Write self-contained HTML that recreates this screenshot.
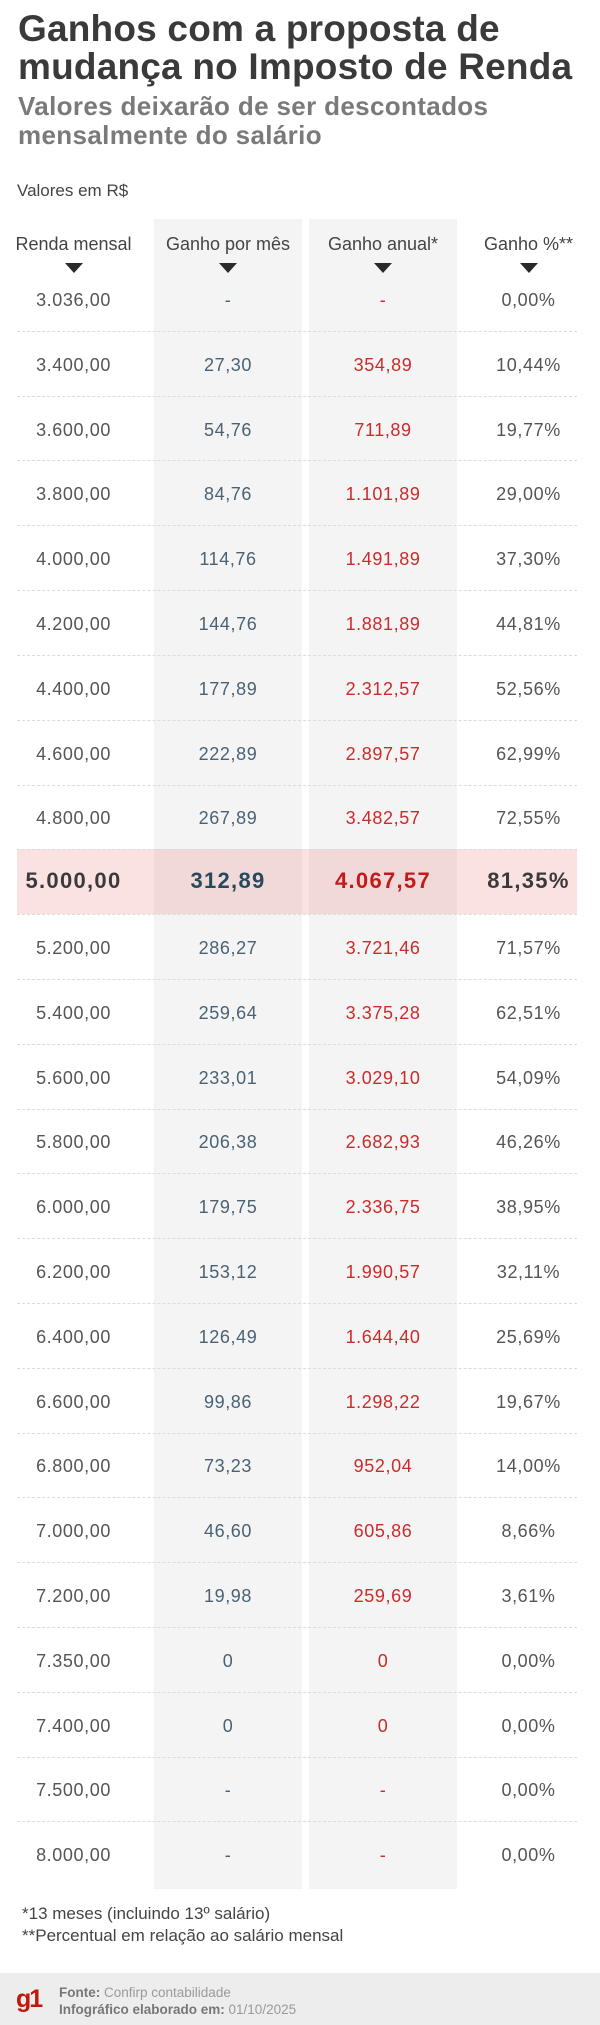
<!DOCTYPE html>
<html>
<head>
<meta charset="utf-8">
<style>
  html,body{margin:0;padding:0;background:#fff;}
  body{width:600px;height:2025px;position:relative;overflow:hidden;font-family:"Liberation Sans",sans-serif;}
  .abs{position:absolute;}
  .title{left:18px;top:10px;font-size:37px;line-height:38px;font-weight:bold;color:#3a3a3a;letter-spacing:0.2px;white-space:nowrap;}
  .sub{left:18px;top:92px;font-size:26px;line-height:29px;font-weight:bold;color:#7a7a7a;letter-spacing:0.35px;white-space:nowrap;}
  .unit{left:17px;top:181px;font-size:17px;line-height:20px;color:#444;white-space:nowrap;}
  .gcol{background:#f4f4f4;top:219px;height:1670px;width:148px;}
  .hd{width:150px;text-align:center;font-size:18px;line-height:30px;top:229px;color:#444;white-space:nowrap;}
  .tri{width:0;height:0;border-left:9px solid transparent;border-right:9px solid transparent;border-top:10px solid #2a2a2a;top:263px;}
  .dash{left:17px;width:560px;height:0;border-top:1px dashed #dcdcdc;}
  .band{left:17px;width:560px;top:849px;height:65px;background:rgba(228,110,110,0.2);}
  .c{width:150px;text-align:center;font-size:18px;line-height:30px;white-space:nowrap;letter-spacing:0.6px;}
  .c0{left:-1.5px;color:#555;}
  .c1{left:153px;color:#4a6274;}
  .c2{left:308px;color:#cc2b2b;}
  .c3{left:453.5px;color:#555;}
  .b{font-weight:bold;font-size:22px;letter-spacing:1.3px;}
  .b.c0{color:#3a3a3a;}
  .b.c1{color:#264a5c;}
  .b.c2{color:#c41a1a;}
  .b.c3{color:#3a3a3a;}
  .note{left:22px;font-size:17px;line-height:22px;color:#444;white-space:nowrap;}
  .footer{left:0;top:1973px;width:600px;height:52px;background:#ededed;}
  .g1{left:16px;top:1984px;font-size:25px;line-height:30px;font-weight:bold;color:#c4170c;letter-spacing:-2px;}
  .ft{left:59px;font-size:13.5px;line-height:17px;color:#9a9a9a;white-space:nowrap;}
  .ft b{color:#777;}
</style>
</head>
<body>
<div class="abs title">Ganhos com a proposta de<br>mudança no Imposto de Renda</div>
<div class="abs sub">Valores deixarão de ser descontados<br>mensalmente do salário</div>
<div class="abs unit">Valores em R$</div>

<div class="abs gcol" style="left:154px"></div>
<div class="abs gcol" style="left:309px"></div>

<div class="abs hd" style="left:-1.5px">Renda mensal</div>
<div class="abs hd" style="left:153px">Ganho por mês</div>
<div class="abs hd" style="left:308px">Ganho anual*</div>
<div class="abs hd" style="left:453.5px">Ganho %**</div>
<div class="abs tri" style="left:64.5px"></div>
<div class="abs tri" style="left:219px"></div>
<div class="abs tri" style="left:374px"></div>
<div class="abs tri" style="left:519.5px"></div>

<div class="abs band"></div>

<!-- dashed separators -->
<div class="abs dash" style="top:331px"></div>
<div class="abs dash" style="top:396px"></div>
<div class="abs dash" style="top:460px"></div>
<div class="abs dash" style="top:525px"></div>
<div class="abs dash" style="top:590px"></div>
<div class="abs dash" style="top:655px"></div>
<div class="abs dash" style="top:720px"></div>
<div class="abs dash" style="top:785px"></div>
<div class="abs dash" style="top:849px"></div>
<div class="abs dash" style="top:914px"></div>
<div class="abs dash" style="top:979px"></div>
<div class="abs dash" style="top:1044px"></div>
<div class="abs dash" style="top:1109px"></div>
<div class="abs dash" style="top:1173px"></div>
<div class="abs dash" style="top:1238px"></div>
<div class="abs dash" style="top:1303px"></div>
<div class="abs dash" style="top:1368px"></div>
<div class="abs dash" style="top:1433px"></div>
<div class="abs dash" style="top:1497px"></div>
<div class="abs dash" style="top:1562px"></div>
<div class="abs dash" style="top:1627px"></div>
<div class="abs dash" style="top:1692px"></div>
<div class="abs dash" style="top:1757px"></div>
<div class="abs dash" style="top:1821px"></div>

<!-- rows -->
<div class="abs c c0" style="top:285px">3.036,00</div><div class="abs c c1" style="top:285px">-</div><div class="abs c c2" style="top:285px">-</div><div class="abs c c3" style="top:285px">0,00%</div>
<div class="abs c c0" style="top:350px">3.400,00</div><div class="abs c c1" style="top:350px">27,30</div><div class="abs c c2" style="top:350px">354,89</div><div class="abs c c3" style="top:350px">10,44%</div>
<div class="abs c c0" style="top:415px">3.600,00</div><div class="abs c c1" style="top:415px">54,76</div><div class="abs c c2" style="top:415px">711,89</div><div class="abs c c3" style="top:415px">19,77%</div>
<div class="abs c c0" style="top:479px">3.800,00</div><div class="abs c c1" style="top:479px">84,76</div><div class="abs c c2" style="top:479px">1.101,89</div><div class="abs c c3" style="top:479px">29,00%</div>
<div class="abs c c0" style="top:544px">4.000,00</div><div class="abs c c1" style="top:544px">114,76</div><div class="abs c c2" style="top:544px">1.491,89</div><div class="abs c c3" style="top:544px">37,30%</div>
<div class="abs c c0" style="top:609px">4.200,00</div><div class="abs c c1" style="top:609px">144,76</div><div class="abs c c2" style="top:609px">1.881,89</div><div class="abs c c3" style="top:609px">44,81%</div>
<div class="abs c c0" style="top:674px">4.400,00</div><div class="abs c c1" style="top:674px">177,89</div><div class="abs c c2" style="top:674px">2.312,57</div><div class="abs c c3" style="top:674px">52,56%</div>
<div class="abs c c0" style="top:739px">4.600,00</div><div class="abs c c1" style="top:739px">222,89</div><div class="abs c c2" style="top:739px">2.897,57</div><div class="abs c c3" style="top:739px">62,99%</div>
<div class="abs c c0" style="top:803px">4.800,00</div><div class="abs c c1" style="top:803px">267,89</div><div class="abs c c2" style="top:803px">3.482,57</div><div class="abs c c3" style="top:803px">72,55%</div>
<div class="abs c c0 b" style="top:866px">5.000,00</div><div class="abs c c1 b" style="top:866px">312,89</div><div class="abs c c2 b" style="top:866px">4.067,57</div><div class="abs c c3 b" style="top:866px">81,35%</div>
<div class="abs c c0" style="top:933px">5.200,00</div><div class="abs c c1" style="top:933px">286,27</div><div class="abs c c2" style="top:933px">3.721,46</div><div class="abs c c3" style="top:933px">71,57%</div>
<div class="abs c c0" style="top:998px">5.400,00</div><div class="abs c c1" style="top:998px">259,64</div><div class="abs c c2" style="top:998px">3.375,28</div><div class="abs c c3" style="top:998px">62,51%</div>
<div class="abs c c0" style="top:1063px">5.600,00</div><div class="abs c c1" style="top:1063px">233,01</div><div class="abs c c2" style="top:1063px">3.029,10</div><div class="abs c c3" style="top:1063px">54,09%</div>
<div class="abs c c0" style="top:1127px">5.800,00</div><div class="abs c c1" style="top:1127px">206,38</div><div class="abs c c2" style="top:1127px">2.682,93</div><div class="abs c c3" style="top:1127px">46,26%</div>
<div class="abs c c0" style="top:1192px">6.000,00</div><div class="abs c c1" style="top:1192px">179,75</div><div class="abs c c2" style="top:1192px">2.336,75</div><div class="abs c c3" style="top:1192px">38,95%</div>
<div class="abs c c0" style="top:1257px">6.200,00</div><div class="abs c c1" style="top:1257px">153,12</div><div class="abs c c2" style="top:1257px">1.990,57</div><div class="abs c c3" style="top:1257px">32,11%</div>
<div class="abs c c0" style="top:1322px">6.400,00</div><div class="abs c c1" style="top:1322px">126,49</div><div class="abs c c2" style="top:1322px">1.644,40</div><div class="abs c c3" style="top:1322px">25,69%</div>
<div class="abs c c0" style="top:1387px">6.600,00</div><div class="abs c c1" style="top:1387px">99,86</div><div class="abs c c2" style="top:1387px">1.298,22</div><div class="abs c c3" style="top:1387px">19,67%</div>
<div class="abs c c0" style="top:1451px">6.800,00</div><div class="abs c c1" style="top:1451px">73,23</div><div class="abs c c2" style="top:1451px">952,04</div><div class="abs c c3" style="top:1451px">14,00%</div>
<div class="abs c c0" style="top:1516px">7.000,00</div><div class="abs c c1" style="top:1516px">46,60</div><div class="abs c c2" style="top:1516px">605,86</div><div class="abs c c3" style="top:1516px">8,66%</div>
<div class="abs c c0" style="top:1581px">7.200,00</div><div class="abs c c1" style="top:1581px">19,98</div><div class="abs c c2" style="top:1581px">259,69</div><div class="abs c c3" style="top:1581px">3,61%</div>
<div class="abs c c0" style="top:1646px">7.350,00</div><div class="abs c c1" style="top:1646px">0</div><div class="abs c c2" style="top:1646px">0</div><div class="abs c c3" style="top:1646px">0,00%</div>
<div class="abs c c0" style="top:1711px">7.400,00</div><div class="abs c c1" style="top:1711px">0</div><div class="abs c c2" style="top:1711px">0</div><div class="abs c c3" style="top:1711px">0,00%</div>
<div class="abs c c0" style="top:1775px">7.500,00</div><div class="abs c c1" style="top:1775px">-</div><div class="abs c c2" style="top:1775px">-</div><div class="abs c c3" style="top:1775px">0,00%</div>
<div class="abs c c0" style="top:1840px">8.000,00</div><div class="abs c c1" style="top:1840px">-</div><div class="abs c c2" style="top:1840px">-</div><div class="abs c c3" style="top:1840px">0,00%</div>

<div class="abs note" style="top:1903px">*13 meses (incluindo 13º salário)</div>
<div class="abs note" style="top:1925px">**Percentual em relação ao salário mensal</div>

<div class="abs footer"></div>
<div class="abs g1">g1</div>
<div class="abs ft" style="top:1984px"><b>Fonte:</b> Confirp contabilidade</div>
<div class="abs ft" style="top:2001px"><b>Infográfico elaborado em:</b> 01/10/2025</div>
</body>
</html>
